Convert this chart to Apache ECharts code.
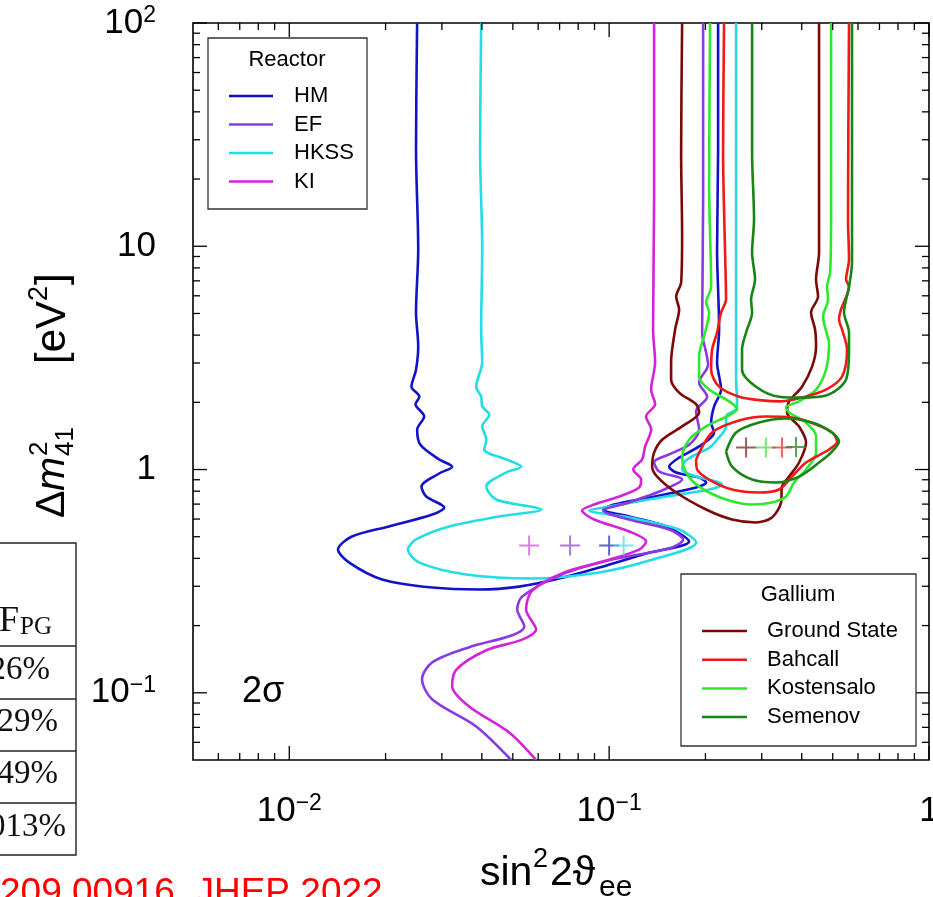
<!DOCTYPE html>
<html><head><meta charset="utf-8">
<script src="https://cdn.jsdelivr.net/npm/echarts@6/dist/echarts.min.js"></script>
<style>html,body{margin:0;padding:0;background:#fff;overflow:hidden}#c{width:933px;height:897px}</style>
</head><body><div id="c"></div>
<script>
const FONT = '"Liberation Sans", Arial, Helvetica, sans-serif';
const SERIF = '"Liberation Serif", "Times New Roman", serif';

// ---------- axes ----------
const xRange = [0.005, 1];
const yRange = [0.05, 100];
const xMajorTicks = [0.01, 0.1, 1];
const xMinorTicks = [0.006,0.007,0.008,0.009,0.02,0.03,0.04,0.05,0.06,0.07,0.08,0.09,0.2,0.3,0.4,0.5,0.6,0.7,0.8,0.9];
const yMajorTicks = [0.1, 1, 10, 100];
const yMinorTicks = [0.06,0.07,0.08,0.09,0.2,0.3,0.4,0.5,0.6,0.7,0.8,0.9,2,3,4,5,6,7,8,9,20,30,40,50,60,70,80,90];

// ---------- reactor contours (2 sigma) [sin^2 2theta, dm2] ----------
const hmCurve = [[0.0251,100],[0.0249,27.1],[0.0253,9.67],[0.0249,5.05],[0.0253,3.56],[0.0249,2.80],[0.0241,2.35],[0.0255,2.12],[0.0248,1.96],[0.0264,1.73],[0.0251,1.51],[0.0257,1.29],[0.0294,1.11],[0.0323,1.03],[0.0294,0.960],[0.0259,0.839],[0.0268,0.757],[0.0305,0.676],[0.0280,0.629],[0.0205,0.556],[0.0157,0.501],[0.0142,0.438],[0.0154,0.383],[0.0195,0.322],[0.0280,0.296],[0.0393,0.290],[0.0523,0.299],[0.0698,0.325],[0.0931,0.364],[0.1305,0.421],[0.1778,0.476],[0.1507,0.556],[0.1155,0.616],[0.0958,0.662],[0.1036,0.697],[0.1334,0.749],[0.1870,0.831],[0.2010,0.875],[0.1911,0.921],[0.1620,0.970],[0.1540,1.03],[0.1655,1.13],[0.1911,1.27],[0.2129,1.46],[0.2084,1.62],[0.2129,1.92],[0.2239,2.28],[0.2175,3.02],[0.2207,4.24],[0.2175,9.67],[0.2191,27.1],[0.2191,100]];
const hkssCurve = [[0.0398,100],[0.0395,27.1],[0.0401,9.67],[0.0398,4.24],[0.0401,3.02],[0.0384,2.35],[0.0398,2.12],[0.0401,1.92],[0.0422,1.76],[0.0401,1.56],[0.0413,1.36],[0.0407,1.23],[0.0477,1.11],[0.0531,1.03],[0.0477,0.970],[0.0413,0.839],[0.0443,0.734],[0.0613,0.662],[0.0453,0.616],[0.0316,0.556],[0.0249,0.486],[0.0235,0.438],[0.0255,0.383],[0.0357,0.339],[0.0575,0.325],[0.0931,0.346],[0.1334,0.391],[0.1870,0.471],[0.1655,0.539],[0.1155,0.610],[0.0866,0.655],[0.1000,0.683],[0.1507,0.757],[0.2054,0.814],[0.2255,0.857],[0.2159,0.884],[0.1870,0.930],[0.1691,1.00],[0.1716,1.08],[0.1870,1.17],[0.2054,1.25],[0.2175,1.36],[0.2320,1.56],[0.2320,1.73],[0.2494,1.86],[0.2512,2.00],[0.2494,2.53],[0.2494,4.24],[0.2494,27.1],[0.2494,100]];
const kiCurve = [[0.1382,100],[0.1382,16.2],[0.1372,4.24],[0.1392,3.02],[0.1353,2.28],[0.1392,1.96],[0.1305,1.73],[0.1353,1.51],[0.1296,1.27],[0.1268,1.11],[0.1189,1.00],[0.1259,0.902],[0.1241,0.831],[0.1075,0.757],[0.0898,0.697],[0.0823,0.655],[0.0898,0.597],[0.1155,0.528],[0.1305,0.476],[0.1241,0.438],[0.0979,0.391],[0.0724,0.346],[0.0575,0.287],[0.0550,0.236],[0.0591,0.192],[0.0535,0.173],[0.0413,0.155],[0.0333,0.127],[0.0323,0.107],[0.0365,0.0868],[0.0487,0.0664],[0.0591,0.05]];
const efCurve = [[0.1967,100],[0.1967,16.2],[0.1953,4.11],[0.2010,3.34],[0.2039,2.95],[0.1911,2.45],[0.2025,2.12],[0.1870,1.82],[0.1911,1.51],[0.1778,1.29],[0.1540,1.17],[0.1382,1.08],[0.1433,0.980],[0.1691,0.902],[0.1486,0.814],[0.1155,0.712],[0.0958,0.655],[0.1155,0.597],[0.1540,0.539],[0.1703,0.486],[0.1540,0.443],[0.1022,0.395],[0.0713,0.339],[0.0535,0.270],[0.0516,0.236],[0.0543,0.198],[0.0498,0.181],[0.0365,0.160],[0.0280,0.137],[0.0260,0.115],[0.0280,0.0933],[0.0384,0.0707],[0.0494,0.05]];

// ---------- gallium contours (2 sigma) ----------
const groundStateCurve = [[0.1691,100],[0.1679,26.3],[0.1691,11.05],[0.1679,6.88],[0.1620,5.95],[0.1655,5.21],[0.1608,4.24],[0.1562,3.02],[0.1562,2.53],[0.1655,2.21],[0.1870,1.96],[0.1911,1.80],[0.1691,1.56],[0.1464,1.36],[0.1382,1.19],[0.1363,1.03],[0.1413,0.930],[0.1620,0.789],[0.2010,0.662],[0.2423,0.597],[0.2879,0.579],[0.3230,0.610],[0.3447,0.712],[0.3472,0.839],[0.3652,0.930],[0.3925,1.075],[0.4127,1.321],[0.3925,1.558],[0.3599,1.80],[0.3652,2.02],[0.4009,2.35],[0.4309,2.89],[0.4435,3.56],[0.4403,4.24],[0.4278,5.05],[0.4499,5.95],[0.4435,7.09],[0.4532,9.37],[0.4532,26.3],[0.4532,100]];
const kostensaloCurve = [[0.2068,100],[0.2054,18.5],[0.2084,6.60],[0.2010,5.60],[0.2054,5.05],[0.1995,4.11],[0.1911,3.21],[0.1911,2.61],[0.2054,2.28],[0.2371,2.02],[0.2512,1.86],[0.2371,1.75],[0.2010,1.56],[0.1778,1.36],[0.1691,1.14],[0.1740,0.970],[0.1911,0.839],[0.2320,0.734],[0.2798,0.697],[0.3230,0.712],[0.3573,0.757],[0.3785,0.875],[0.4127,1.0],[0.4435,1.19],[0.4435,1.41],[0.4127,1.62],[0.3652,1.80],[0.3573,1.90],[0.3925,2.02],[0.4435,2.28],[0.4766,2.80],[0.4870,3.71],[0.4800,4.02],[0.4665,4.85],[0.4835,5.77],[0.4800,6.60],[0.4906,7.63],[0.4942,13.2],[0.4942,100]];
const bahcallBand = [[0.2287,100],[0.2271,26.3],[0.2304,9.37],[0.2320,5.77],[0.2239,5.05],[0.2175,4.11],[0.2099,3.45],[0.2084,2.80],[0.2207,2.35],[0.2548,2.12],[0.3007,2.04],[0.3447,2.02],[0.4009,2.10],[0.4766,2.28],[0.5348,2.61],[0.5544,3.45],[0.5348,4.24],[0.5233,4.70],[0.5309,5.21],[0.5623,6.60],[0.5504,7.09],[0.5623,8.72],[0.5582,13.2],[0.5623,100]];
const bahcallIsland = [[0.1870,1.109],[0.2099,1.464],[0.2548,1.657],[0.3094,1.727],[0.3731,1.709],[0.4435,1.590],[0.4977,1.464],[0.5160,1.335],[0.4870,1.229],[0.4127,1.075],[0.3731,0.930],[0.3398,0.814],[0.2943,0.789],[0.2423,0.814],[0.2054,0.902],[0.1884,1.0],[0.1870,1.109]];
const semenovBand = [[0.2798,100],[0.2798,26.3],[0.2838,13.2],[0.2798,9.37],[0.2858,7.09],[0.2778,5.77],[0.2798,5.05],[0.2680,4.11],[0.2603,3.45],[0.2603,2.80],[0.2879,2.35],[0.3398,2.12],[0.4127,2.10],[0.4870,2.17],[0.5504,2.53],[0.5623,3.45],[0.5623,4.11],[0.5425,5.05],[0.5623,6.60],[0.5745,8.45],[0.5745,13.2],[0.5745,100]];
const semenovIsland = [[0.2320,1.204],[0.2494,1.464],[0.2943,1.623],[0.3573,1.692],[0.4309,1.623],[0.4977,1.464],[0.5233,1.335],[0.4977,1.204],[0.4532,1.075],[0.3925,0.930],[0.3325,0.875],[0.2798,0.902],[0.2423,1.031],[0.2320,1.204]];

// ---------- best fit points ----------
const reactorFitNames = ['KI','EF','HM','HKSS'];
const reactorFitX = [0.0562, 0.0755, 0.100, 0.111];
const reactorFitY = [0.457, 0.457, 0.457, 0.457];
const galliumFitNames = ['Ground State','Kostensalo','Bahcall','Semenov'];
const galliumFitX = [0.268, 0.309, 0.347, 0.384];
const galliumFitY = [1.254, 1.254, 1.254, 1.26];

// ---------- legends / table text ----------
const reactorNames = ['HM','EF','HKSS','KI'];
const galliumNames = ['Ground State','Bahcall','Kostensalo','Semenov'];
const tableRows = ['26%','29%','49%','013%'];

// ---------- styles ----------
const COLORS = {
  'HM':'#1212c8','EF':'#8a3ae0','HKSS':'#22dde6','KI':'#d422d8',
  'Ground State':'#7d0808','Bahcall':'#f01818','Kostensalo':'#2ee82e','Semenov':'#168516'
};
const FIT_COLORS = {
  'HM':'#3a3acc','EF':'#9a55dd','HKSS':'#55e0e6','KI':'#d860e0',
  'Ground State':'#8a3030','Bahcall':'#e84040','Kostensalo':'#55e055','Semenov':'#308a30'
};
const PLUS = 'path://M9,0h2v9h9v2h-9v9h-2v-9h-9v-2h9z';

function curve(name, data){
  return {type:'line', name:name, data:data, smooth:0.3, symbol:'none', showSymbol:false,
    lineStyle:{color:COLORS[name], width:2.6}, itemStyle:{color:COLORS[name]},
    z:3, silent:true, clip:true};
}

function powLabel(v){
  const e = Math.log10(v), r = Math.round(e);
  if (Math.abs(e - r) > 1e-6) return '';
  if (r === 0) return '{b|1}';
  if (r === 1) return '{b|10}';
  return '{b|10}{s|' + (r < 0 ? '\u2212' + (-r) : r) + '}';
}
const labelRich = {
  b:{fontSize:35, lineHeight:38, fontFamily:FONT, color:'#000'},
  s:{fontSize:23, lineHeight:20, verticalAlign:'top', fontFamily:FONT, color:'#000'}
};

const tickData = []
  .concat(xMinorTicks.map(v => [v, yRange[0], 0]))
  .concat(xMajorTicks.map(v => [v, yRange[0], 1]))
  .concat(yMinorTicks.map(v => [xRange[0], v, 2]))
  .concat(yMajorTicks.map(v => [xRange[0], v, 3]));

function renderTick(params, api){
  const kind = api.value(2);
  const cs = params.coordSys;
  const st = {stroke:'#000', lineWidth:1.3};
  if (kind < 2) {
    const px = api.coord([api.value(0), yRange[0]])[0];
    const len = kind === 1 ? 14 : 7;
    return {type:'group', children:[
      {type:'line', shape:{x1:px, y1:cs.y+cs.height, x2:px, y2:cs.y+cs.height-len}, style:st},
      {type:'line', shape:{x1:px, y1:cs.y, x2:px, y2:cs.y+len}, style:st}
    ]};
  } else {
    const py = api.coord([xRange[0], api.value(1)])[1];
    const len = kind === 3 ? 14 : 7;
    return {type:'group', children:[
      {type:'line', shape:{x1:cs.x, y1:py, x2:cs.x+len, y2:py}, style:st},
      {type:'line', shape:{x1:cs.x+cs.width, y1:py, x2:cs.x+cs.width-len, y2:py}, style:st}
    ]};
  }
}

const series = [
  curve('HM', hmCurve), curve('HKSS', hkssCurve), curve('EF', efCurve), curve('KI', kiCurve),
  curve('Ground State', groundStateCurve), curve('Kostensalo', kostensaloCurve),
  curve('Bahcall', bahcallBand), curve('Bahcall', bahcallIsland),
  curve('Semenov', semenovBand), curve('Semenov', semenovIsland),
  {type:'scatter', name:'reactorFit', symbol:PLUS, symbolSize:20, z:4, silent:true,
   data: reactorFitNames.map((n,i)=>({value:[reactorFitX[i], reactorFitY[i]], itemStyle:{color:FIT_COLORS[n]}}))},
  {type:'scatter', name:'galliumFit', symbol:PLUS, symbolSize:20, z:4, silent:true,
   data: galliumFitNames.map((n,i)=>({value:[galliumFitX[i], galliumFitY[i]], itemStyle:{color:FIT_COLORS[n]}}))},
  {type:'custom', name:'ticks', renderItem:renderTick, data:tickData, clip:false, silent:true, z:6,
   encode:{x:0, y:1}}
];

const legendText = {fontSize:22, fontFamily:FONT, color:'#000', lineHeight:22};

const option = {
  animation:false,
  backgroundColor:'#fff',
  grid:{left:193, top:23, width:736, height:737, show:true, borderColor:'#000', borderWidth:1.6,
        backgroundColor:'transparent', containLabel:false, outerBoundsMode:'none'},
  xAxis:{type:'log', logBase:10, min:xRange[0], max:xRange[1],
    axisLine:{show:false}, axisTick:{show:false}, splitLine:{show:false}, minorTick:{show:false},
    axisLabel:{formatter:powLabel, rich:labelRich, margin:32, showMinLabel:true, showMaxLabel:true,
               fontSize:35, fontFamily:FONT, color:'#000', hideOverlap:false}},
  yAxis:{type:'log', logBase:10, min:yRange[0], max:yRange[1],
    axisLine:{show:false}, axisTick:{show:false}, splitLine:{show:false}, minorTick:{show:false},
    axisLabel:{formatter:powLabel, rich:labelRich, margin:37, showMinLabel:true, showMaxLabel:true,
               fontSize:35, fontFamily:FONT, color:'#000', hideOverlap:false}},
  legend:[
    {data:reactorNames, orient:'vertical', left:229, top:85, padding:0, icon:'rect',
     itemWidth:44, itemHeight:2.5, itemGap:6.5, selectedMode:false, z:8,
     textStyle:Object.assign({padding:[0,0,0,16]}, legendText)},
    {data:galliumNames, orient:'vertical', left:702, top:620, padding:0, icon:'rect',
     itemWidth:45, itemHeight:2.5, itemGap:6.7, selectedMode:false, z:8,
     textStyle:Object.assign({padding:[0,0,0,15]}, legendText)}
  ],
  graphic:[
    // legend boxes
    {type:'rect', shape:{x:208, y:38, width:159, height:171}, style:{fill:'#fff', stroke:'#333', lineWidth:1.3}, z:7, silent:true},
    {type:'text', x:287, y:60, style:{text:'Reactor', font:'22px '+FONT, fill:'#000', align:'center', verticalAlign:'middle'}, z:8},
    {type:'rect', shape:{x:681, y:574, width:235, height:172}, style:{fill:'#fff', stroke:'#333', lineWidth:1.3}, z:7, silent:true},
    {type:'text', x:798, y:595, style:{text:'Gallium', font:'22px '+FONT, fill:'#000', align:'center', verticalAlign:'middle'}, z:8},
    // 2 sigma
    {type:'text', x:242, y:692, style:{text:'2\u03c3', font:'36px '+FONT, fill:'#000', align:'left', verticalAlign:'middle'}, z:8},
    // x axis title
    {type:'text', x:480, y:874, style:{text:'sin', font:'41px '+FONT, fill:'#000', align:'left', verticalAlign:'middle'}},
    {type:'text', x:533, y:860, style:{text:'2', font:'27px '+FONT, fill:'#000', align:'left', verticalAlign:'middle'}},
    {type:'text', x:550, y:874, style:{text:'2\u03d1', font:'41px '+FONT, fill:'#000', align:'left', verticalAlign:'middle'}},
    {type:'text', x:599, y:888, style:{text:'ee', font:'30px '+FONT, fill:'#000', align:'left', verticalAlign:'middle'}},
    // y axis title (rotated)
    {type:'group', x:53, y:518, rotation:Math.PI/2, children:[
      {type:'text', x:0, y:0, style:{text:'\u0394', font:'41px '+FONT, fill:'#000', align:'left', verticalAlign:'middle'}},
      {type:'text', x:27, y:0, style:{text:'m', font:'italic 41px '+FONT, fill:'#000', align:'left', verticalAlign:'middle'}},
      {type:'text', x:62, y:-13, style:{text:'2', font:'26px '+FONT, fill:'#000', align:'left', verticalAlign:'middle'}},
      {type:'text', x:62, y:13, style:{text:'41', font:'26px '+FONT, fill:'#000', align:'left', verticalAlign:'middle'}},
      {type:'text', x:154, y:0, style:{text:'[eV', font:'42px '+FONT, fill:'#000', align:'left', verticalAlign:'middle'}},
      {type:'text', x:217, y:-13, style:{text:'2', font:'27px '+FONT, fill:'#000', align:'left', verticalAlign:'middle'}},
      {type:'text', x:233, y:0, style:{text:']', font:'42px '+FONT, fill:'#000', align:'left', verticalAlign:'middle'}}
    ]},
    // partial table at left
    {type:'polyline', shape:{points:[[0,543],[76,543],[76,855],[0,855]]}, style:{stroke:'#222', lineWidth:1.4, fill:null}},
    {type:'line', shape:{x1:0, y1:646, x2:76, y2:646}, style:{stroke:'#222', lineWidth:1.4}},
    {type:'line', shape:{x1:0, y1:699, x2:76, y2:699}, style:{stroke:'#222', lineWidth:1.4}},
    {type:'line', shape:{x1:0, y1:751, x2:76, y2:751}, style:{stroke:'#222', lineWidth:1.4}},
    {type:'line', shape:{x1:0, y1:803, x2:76, y2:803}, style:{stroke:'#222', lineWidth:1.4}},
    {type:'text', x:19, y:622, style:{text:'F', font:'36px '+SERIF, fill:'#111', align:'right', verticalAlign:'middle'}},
    {type:'text', x:20, y:627, style:{text:'PG', font:'25px '+SERIF, fill:'#111', align:'left', verticalAlign:'middle'}},
    {type:'text', x:50, y:670, style:{text:tableRows[0], font:'33px '+SERIF, fill:'#111', align:'right', verticalAlign:'middle'}},
    {type:'text', x:58, y:722, style:{text:tableRows[1], font:'33px '+SERIF, fill:'#111', align:'right', verticalAlign:'middle'}},
    {type:'text', x:58, y:774, style:{text:tableRows[2], font:'33px '+SERIF, fill:'#111', align:'right', verticalAlign:'middle'}},
    {type:'text', x:66, y:827, style:{text:tableRows[3], font:'33px '+SERIF, fill:'#111', align:'right', verticalAlign:'middle'}},
    // reference line (cut off at bottom)
    {type:'text', x:0, y:894, style:{text:'209.00916, JHEP 2022', font:'37px '+FONT, fill:'#f00', align:'left', verticalAlign:'middle'}}
  ],
  series:series
};

const chart = echarts.init(document.getElementById('c'), null, {renderer:'canvas', width:933, height:897});
chart.setOption(option);
</script>
</body></html>
